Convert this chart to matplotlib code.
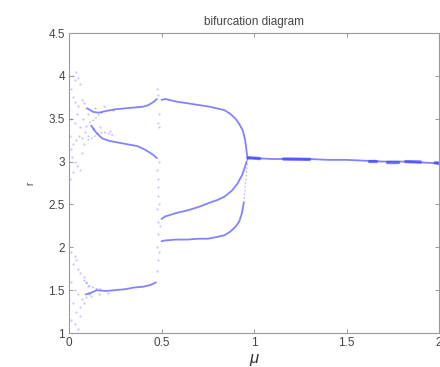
import matplotlib
matplotlib.use("Agg")
import matplotlib.pyplot as plt

plt.rcParams['font.family'] = ['Liberation Sans', 'DejaVu Sans']

# ---- data (mu, r) ----
# left branches, mu 0.1 .. 0.48
upA_mu = [0.10, 0.13, 0.16, 0.20, 0.25, 0.30, 0.35, 0.40, 0.43, 0.46, 0.475]
upA_r = [3.62, 3.58, 3.57, 3.59, 3.61, 3.62, 3.63, 3.64, 3.66, 3.70, 3.73]
midB_mu = [0.12, 0.15, 0.18, 0.22, 0.27, 0.32, 0.37, 0.41, 0.44, 0.46, 0.475]
midB_r = [3.42, 3.33, 3.27, 3.24, 3.22, 3.20, 3.18, 3.14, 3.10, 3.07, 3.04]
crs1_mu = [0.11, 0.13, 0.15, 0.17, 0.19]
crs1_r = [3.45, 3.48, 3.52, 3.56, 3.59]
crs2_mu = [0.10, 0.13, 0.16, 0.19, 0.22, 0.25]
crs2_r = [3.25, 3.28, 3.33, 3.34, 3.32, 3.30]
lowC_mu = [0.09, 0.12, 0.15, 0.20, 0.25, 0.30, 0.35, 0.40, 0.44, 0.47]
lowC_r = [1.45, 1.47, 1.50, 1.49, 1.50, 1.51, 1.53, 1.54, 1.56, 1.59]
lowC2_mu = [0.08, 0.11, 0.14, 0.18]
lowC2_r = [1.62, 1.55, 1.52, 1.51]

# right branches, mu 0.5 .. 0.97
upD_mu = [0.50, 0.52, 0.58, 0.64, 0.70, 0.76, 0.80, 0.84, 0.87, 0.90, 0.92, 0.94, 0.952, 0.96, 0.965]
upD_r = [3.72, 3.73, 3.70, 3.68, 3.66, 3.64, 3.62, 3.60, 3.56, 3.50, 3.44, 3.36, 3.25, 3.12, 3.02]
midE_mu = [0.50, 0.52, 0.58, 0.64, 0.70, 0.76, 0.80, 0.84, 0.88, 0.91, 0.935, 0.95, 0.96]
midE_r = [2.33, 2.36, 2.40, 2.43, 2.47, 2.52, 2.55, 2.59, 2.66, 2.74, 2.84, 2.93, 3.00]
lowF_mu = [0.50, 0.52, 0.58, 0.64, 0.70, 0.75, 0.80, 0.84, 0.87, 0.90, 0.92, 0.935, 0.945]
lowF_r = [2.07, 2.08, 2.09, 2.09, 2.10, 2.10, 2.12, 2.14, 2.18, 2.24, 2.30, 2.40, 2.52]
vertG_mu = [0.945, 0.95, 0.955, 0.96, 0.965]
vertG_r = [2.52, 2.64, 2.76, 2.88, 3.00]

# single branch, mu 0.97 .. 2
fixH_mu = [0.97, 1.00, 1.10, 1.20, 1.30, 1.40, 1.50, 1.60, 1.70, 1.80, 1.90, 2.00]
fixH_r = [3.04, 3.04, 3.03, 3.03, 3.03, 3.02, 3.02, 3.01, 3.00, 3.00, 2.99, 2.98]
blob_mu = [[0.97, 1.03], [1.16, 1.30], [1.62, 1.66], [1.72, 1.78], [1.82, 1.90], [1.98, 2.0]]
blob_r = [[3.045, 3.035], [3.03, 3.025], [3.005, 3.005], [3.0, 3.0], [3.0, 2.995], [2.985, 2.98]]

# scattered points
scat_mu = [0.01, 0.02, 0.03, 0.04, 0.05, 0.06, 0.02, 0.035, 0.05, 0.07, 0.08, 0.09,
           0.01, 0.03, 0.045, 0.06, 0.075, 0.09, 0.10, 0.005, 0.02, 0.04, 0.055, 0.07,
           0.085, 0.10, 0.015, 0.03, 0.045, 0.06, 0.02, 0.005, 0.07, 0.08, 0.0, 0.012,
           0.01, 0.03, 0.02, 0.04, 0.05, 0.06, 0.08, 0.09, 0.10, 0.01, 0.03, 0.05,
           0.07, 0.09, 0.11, 0.02, 0.04, 0.06, 0.08, 0.01, 0.03, 0.05, 0.06, 0.0,
           0.478, 0.48, 0.482, 0.485, 0.476, 0.48, 0.483, 0.478, 0.48, 0.482, 0.477,
           0.48, 0.478, 0.49, 0.485, 0.488, 0.484, 0.479, 0.486,
           0.13, 0.17, 0.22, 0.14, 0.19, 0.24, 0.12, 0.16, 0.21]
scat_r = [3.85, 4.00, 3.95, 4.05, 3.98, 3.90, 3.75, 3.70, 3.65, 3.72, 3.68, 3.62,
          3.50, 3.45, 3.55, 3.40, 3.50, 3.42, 3.55, 3.30, 3.20, 3.25, 3.30, 3.28,
          3.35, 3.30, 3.05, 3.00, 2.95, 2.90, 2.88, 2.80, 3.10, 3.20, 3.60, 3.15,
          1.95, 1.90, 1.80, 1.85, 1.75, 1.70, 1.65, 1.60, 1.55, 1.60, 1.50, 1.45,
          1.40, 1.42, 1.45, 1.35, 1.25, 1.30, 1.35, 1.15, 1.10, 1.05, 1.20, 1.40,
          3.85, 3.78, 3.45, 3.40, 2.90, 2.70, 2.60, 2.45, 2.30, 2.15, 2.00,
          1.85, 1.72, 2.25, 2.50, 3.55, 3.00, 2.80, 1.95,
          3.38, 3.40, 3.36, 3.62, 3.65, 3.60, 1.43, 1.46, 1.47]

title = "bifurcation diagram"
xlabel = "\u03bc"
ylabel = "r"
xticks = [0, 0.5, 1, 1.5, 2]
yticks = [1, 1.5, 2, 2.5, 3, 3.5, 4, 4.5]

fig = plt.figure(figsize=(4.40, 3.67), dpi=100)
ax = fig.add_axes([69 / 440, 34 / 367, 370 / 440, 300 / 367])

blue = (0.25, 0.25, 1.0)
for xm, yr in [(upA_mu, upA_r), (midB_mu, midB_r), (lowC_mu, lowC_r),
               (upD_mu, upD_r), (midE_mu, midE_r), (lowF_mu, lowF_r),
               (fixH_mu, fixH_r)]:
    ax.plot(xm, yr, color=blue, lw=1.3, alpha=0.65, solid_capstyle='round')
for xm, yr in [(crs1_mu, crs1_r), (crs2_mu, crs2_r), (lowC2_mu, lowC2_r)]:
    ax.plot(xm, yr, color=blue, lw=0.9, alpha=0.4, ls=(0, (1.5, 1.5)))
ax.plot(vertG_mu, vertG_r, color=blue, lw=0.9, alpha=0.35, ls=(0, (1.5, 1.5)))
for xm, yr in zip(blob_mu, blob_r):
    ax.plot(xm, yr, color=blue, lw=2.4, alpha=0.7, solid_capstyle='round')
ax.plot(scat_mu, scat_r, ls='none', marker='o', ms=1.6, mfc=blue,
        mec='none', alpha=0.3)

ax.set_xlim(0, 2)
ax.set_ylim(1, 4.5)
ax.set_xticks(xticks)
ax.set_xticklabels(['0', '0.5', '1', '1.5', '2'])
ax.set_yticks(yticks)
ax.set_yticklabels(['1', '1.5', '2', '2.5', '3', '3.5', '4', '4.5'])
ax.tick_params(direction='in', length=3, width=0.6, color='#888888',
               labelsize=8.5, labelcolor='#444444', top=True, right=True, pad=3)
for s in ax.spines.values():
    s.set_color('#999999')
    s.set_linewidth(0.8)

ax.set_title(title, fontsize=8.5, color='#444444', pad=6)
ax.set_xlabel(xlabel, fontsize=12, style='italic', color='#333333', labelpad=1)
ax.set_ylabel(ylabel, fontsize=7, color='#444444', labelpad=9)

fig.savefig("out.png", dpi=100)
